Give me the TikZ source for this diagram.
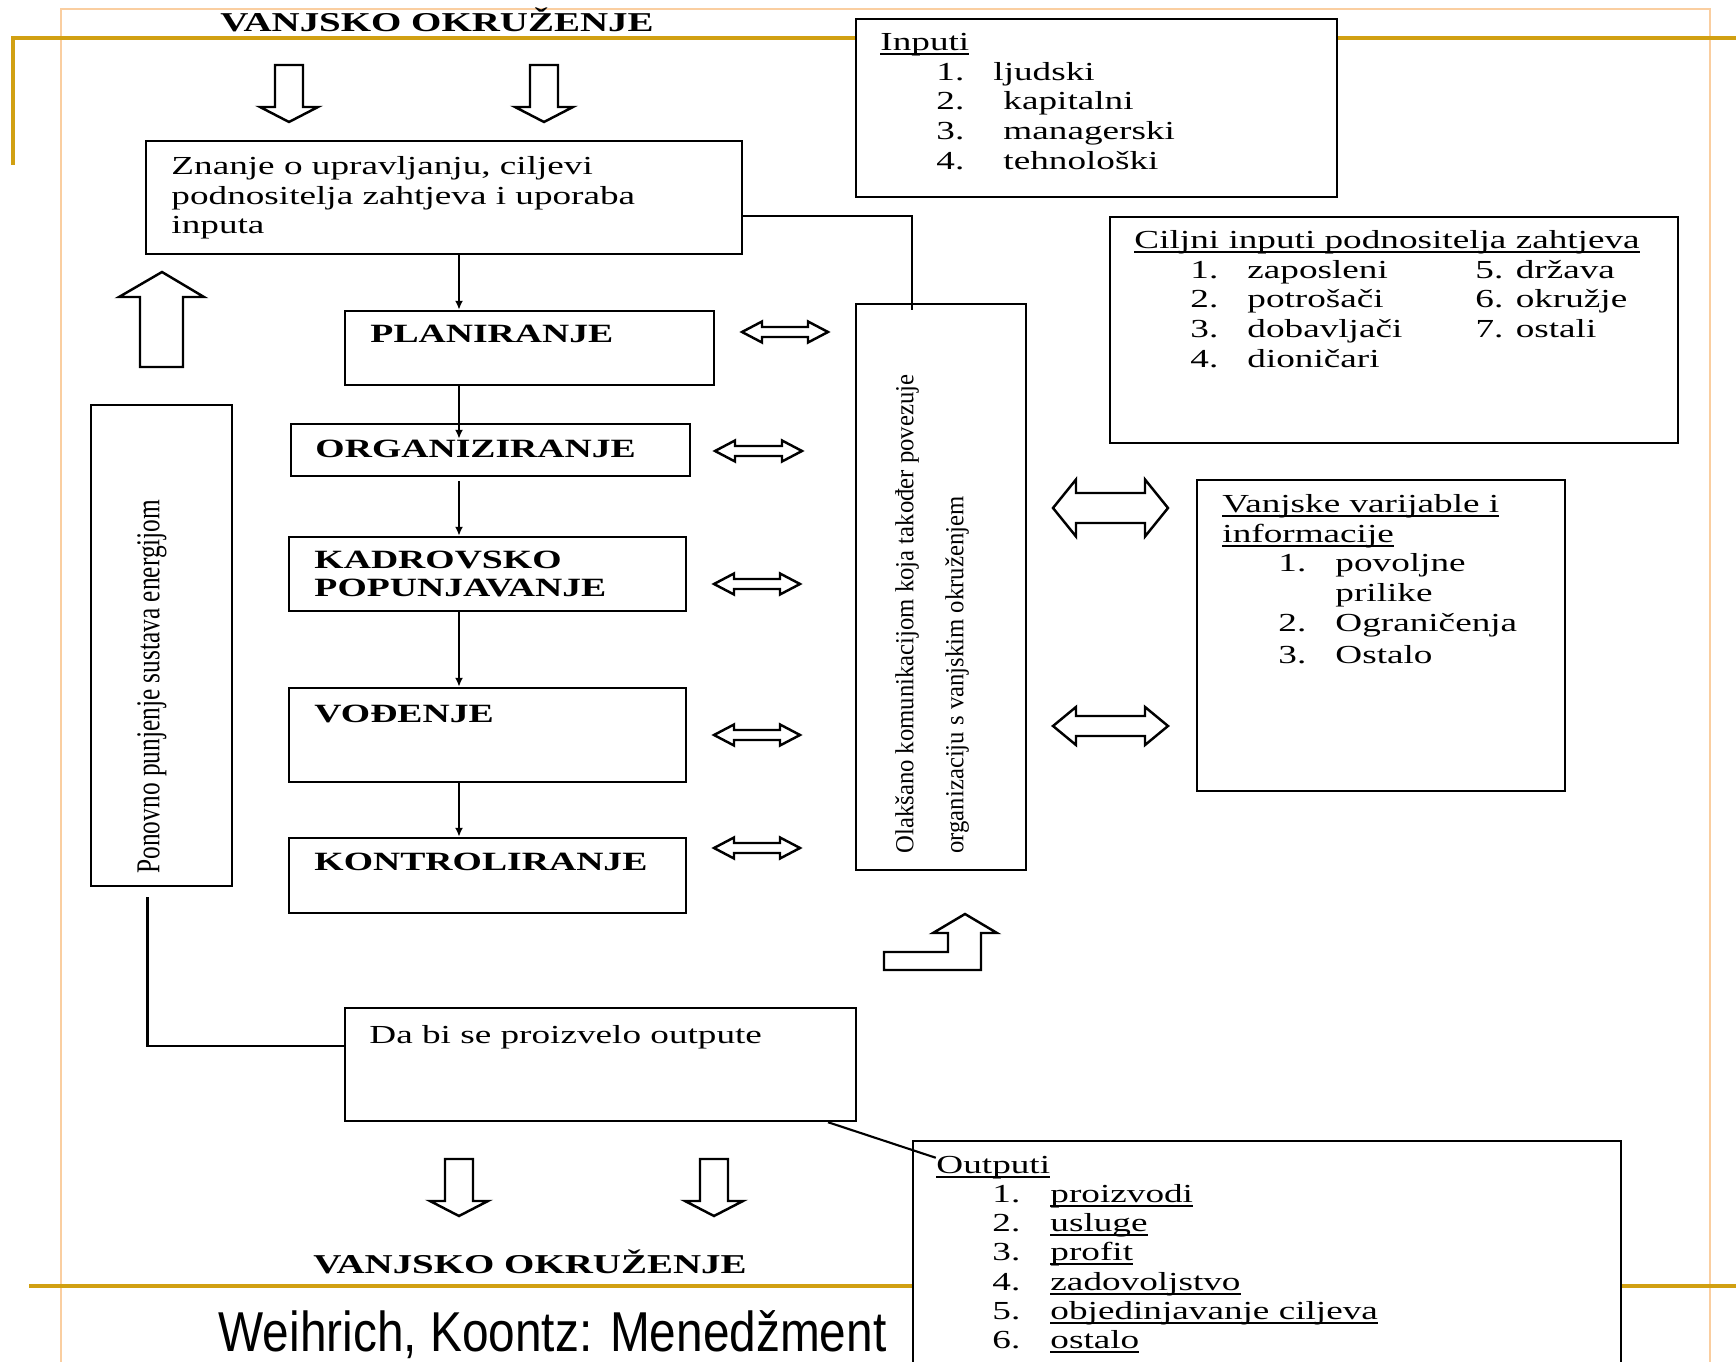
\documentclass[tikz,border=0pt]{standalone}
\usepackage{fontspec}
\setmainfont{Liberation Serif}
\newfontfamily\wideserif[FakeStretch=1.43]{Liberation Serif}
\newfontfamily\condserif[FakeStretch=0.95]{Liberation Serif}
\newfontfamily\tightserif[FakeStretch=0.76]{Liberation Serif}
\newfontfamily\narrowsans[FakeStretch=0.85]{Liberation Sans}
\usetikzlibrary{arrows.meta,positioning,calc}
\definecolor{slidegold}{RGB}{209,160,18}
\definecolor{slideorange}{RGB}{250,206,160}

\newcommand{\topstrut}{\rule{0pt}{2.4mm}}
\newcommand{\itm}[2][5.7mm]{\hspace*{5.6mm}\makebox[#1][l]{#2}}
% underline that keeps the line spacing
\newsavebox\ulbox
\newcommand{\ul}[1]{\sbox\ulbox{#1}\rlap{\rule[-0.45mm]{\wd\ulbox}{0.2mm}}\usebox\ulbox}
% hollow block arrows (coordinates in px)
\newcommand{\downblock}[2]{%
  \draw[blockarr] (#1-14,#2) -- (#1+14,#2) -- (#1+14,#2+42) -- (#1+29,#2+42)
    -- (#1,#2+57) -- (#1-29,#2+42) -- (#1-14,#2+42) -- cycle;}
\newcommand{\dblarrow}[6]{%
  \draw[blockarr] (#1,#3) -- (#1+#6,#3-#4) -- (#1+#6,#3-#5) -- (#2-#6,#3-#5)
    -- (#2-#6,#3-#4) -- (#2,#3) -- (#2-#6,#3+#4) -- (#2-#6,#3+#5)
    -- (#1+#6,#3+#5) -- (#1+#6,#3+#4) -- cycle;}

\begin{document}
\begin{tikzpicture}[x=0.1mm, y=-0.1mm,
    box/.style={draw, fill=white, line width=0.7pt, inner sep=0pt},
    txt/.style={font={\wideserif\fontsize{7.4}{8.45}\selectfont}, inner sep=0pt, align=left, anchor=north west},
    stagetxt/.style={font={\wideserif\bfseries\fontsize{7.5}{7.97}\selectfont}, inner sep=0pt, align=left},
    envtxt/.style={font={\wideserif\bfseries\fontsize{7.75}{9}\selectfont}, inner sep=0pt, anchor=base},
    vtxt/.style={inner sep=0pt, rotate=90, anchor=west},
    link/.style={line width=0.6pt},
    flow/.style={line width=0.6pt, -{Latex[length=0.9mm, width=0.8mm]}},
    blockarr/.style={draw, fill=white, line width=0.7pt, line join=miter}]
\useasboundingbox (0,0) rectangle (1736,1362);
\clip (0,0) rectangle (1736,1362);

% slide frame
\draw[slideorange, line width=0.6pt] (61,1362) -- (61,9) -- (1710,9) -- (1710,1362);
\draw[slidegold, line width=1pt] (13,165) -- (13,38) -- (1736,38);
\draw[slidegold, line width=1pt] (29,1286) -- (1736,1286);

% boxes
\node[box, minimum width=59.6mm, minimum height=11.3mm] (znanje) at (444,197.5) {};
\node[box, minimum width=48.1mm, minimum height=17.8mm] (inputi) at (1096.5,108) {};
\node[box, minimum width=56.8mm, minimum height=22.6mm] (ciljni) at (1394,330) {};
\node[box, minimum width=36.9mm, minimum height=7.4mm] (plan) at (529.5,348) {};
\node[box, minimum width=39.9mm, minimum height=5.2mm] (org) at (490.5,450) {};
\node[box, minimum width=39.7mm, minimum height=7.4mm] (kadr) at (487.5,574) {};
\node[box, minimum width=39.7mm, minimum height=9.4mm] (vod) at (487.5,735) {};
\node[box, minimum width=39.7mm, minimum height=7.5mm] (kontr) at (487.5,875.5) {};
\node[box, minimum width=17mm, minimum height=56.6mm] (comm) at (941,587) {};
\node[box, minimum width=36.8mm, minimum height=31.1mm] (vanjske) at (1381,635.5) {};
\node[box, minimum width=14.1mm, minimum height=48.1mm] (pono) at (161.5,645.5) {};
\node[box, minimum width=51.1mm, minimum height=11.3mm] (dabi) at (600.5,1064.5) {};
\node[box, minimum width=70.8mm, minimum height=31.8mm] (outputi) at (1267,1300) {};

% texts
\node[envtxt] (envtop) at (437,32) {VANJSKO OKRUŽENJE};
\node[envtxt] (envbot) at (530,1273) {VANJSKO OKRUŽENJE};
\node[txt] (znanjeT) at ([shift={(26,10)}]znanje.north west)
  {\topstrut Znanje o upravljanju, ciljevi\\podnositelja zahtjeva i uporaba\\inputa};
\node[txt] (inputiT) at ([shift={(25,8)}]inputi.north west)
  {\topstrut\ul{Inputi}\\
   \itm{1.}ljudski\\
   \itm[6.7mm]{2.}kapitalni\\
   \itm[6.7mm]{3.}managerski\\
   \itm[6.7mm]{4.}tehnološki};
\node[txt] (ciljniT) at ([shift={(25,8)}]ciljni.north west)
  {\topstrut\ul{Ciljni inputi podnositelja zahtjeva}\\
   \itm{1.}\makebox[22.8mm][l]{zaposleni}5. država\\
   \itm{2.}\makebox[22.8mm][l]{potrošači}6. okružje\\
   \itm{3.}\makebox[22.8mm][l]{dobavljači}7. ostali\\
   \itm{4.}dioničari};
\node[txt] (vanjskeT) at ([shift={(26,9)}]vanjske.north west)
  {\topstrut\ul{Vanjske varijable i}\\\ul{informacije}\\
   \itm{1.}povoljne\\
   \hspace*{11.3mm}prilike\\
   \itm{2.}Ograničenja\\[0.3mm]
   \itm{3.}Ostalo};
\node[txt, font={\wideserif\fontsize{7.4}{8.3}\selectfont}] (outputiT) at ([shift={(24,9)}]outputi.north west)
  {\topstrut\ul{Outputi}\\
   \itm[5.8mm]{1.}\ul{proizvodi}\\
   \itm[5.8mm]{2.}\ul{usluge}\\
   \itm[5.8mm]{3.}\ul{profit}\\
   \itm[5.8mm]{4.}\ul{zadovoljstvo}\\
   \itm[5.8mm]{5.}\ul{objedinjavanje ciljeva}\\
   \itm[5.8mm]{6.}\ul{ostalo}};
\node[txt] (dabiT) at ([shift={(25,12)}]dabi.north west) {\topstrut Da bi se proizvelo outpute};

\node[stagetxt, anchor=base west] (planT) at ([shift={(26,33)}]plan.north west) {PLANIRANJE};
\node[stagetxt, anchor=base west] (orgT) at ([shift={(25,35)}]org.north west) {ORGANIZIRANJE};
\node[stagetxt, anchor=north west] (kadrT) at ([shift={(26,8)}]kadr.north west) {\topstrut KADROVSKO\\POPUNJAVANJE};
\node[stagetxt, anchor=base west] (vodT) at ([shift={(26,36)}]vod.north west) {VOĐENJE};
\node[stagetxt, anchor=base west] (kontrT) at ([shift={(26,34)}]kontr.north west) {KONTROLIRANJE};

\node[vtxt, font={\tightserif\fontsize{9.5}{11}\selectfont}] (ponoT) at ([shift={(-9.5,-13)}]pono.south)
  {Ponovno punjenje sustava energijom};
\node[vtxt, font={\condserif\fontsize{7.4}{9}\selectfont}] (commA) at ([shift={(-34,-17)}]comm.south)
  {Olakšano komunikacijom koja također povezuje};
\node[vtxt, font={\condserif\fontsize{7.4}{9}\selectfont}] (commB) at ([shift={(16,-17)}]comm.south)
  {organizaciju s vanjskim okruženjem};

\node[inner sep=0pt, anchor=base west, font={\narrowsans\fontsize{16}{19}\selectfont}] (source) at (218,1351)
  {Weihrich, Koontz: Menedžment};

% connectors
\coordinate (spine) at (459,0);
\draw[flow] (znanje.south -| spine) -- (plan.north -| spine);
\draw[flow] (plan.south -| spine) -- ($(org.north -| spine)+(0,16)$);
\draw[flow] ($(org.south -| spine)+(0,4)$) -- (kadr.north -| spine);
\draw[flow] (kadr.south -| spine) -- (vod.north -| spine);
\draw[flow] (vod.south -| spine) -- (kontr.north -| spine);

\coordinate (linkrow) at (0,216);
\coordinate (linkcol) at (912,0);
\draw[link] (znanje.east |- linkrow) -| ($(comm.north -| linkcol)+(0,7)$);

\coordinate (feedcol) at (147.5,0);
\coordinate (feedrow) at (0,1046);
\draw[link] ($(pono.south -| feedcol)+(0,10)$) |- (dabi.west |- feedrow);

\coordinate (outcol) at (828,0);
\draw[link] (dabi.south -| outcol) -- ($(outputiT.north west)+(0,9)$);

% block arrows
\downblock{289}{65}
\downblock{544}{65}
\downblock{459}{1159}
\downblock{714}{1159}
\draw[blockarr] (140,367) -- (140,297) -- (119,297) -- (162,272) -- (204,297) -- (183,297) -- (183,367) -- cycle;
\draw[blockarr] (884,970) -- (884,952) -- (948,952) -- (948,933) -- (933,933) -- (965,914) -- (997,933) -- (981,933) -- (981,970) -- cycle;

\dblarrow{742}{828}{332}{10.5}{5}{20}
\dblarrow{715}{802}{451}{10.5}{5}{20}
\foreach \yy in {584,735,848} {\dblarrow{714}{800}{\yy}{10.5}{5}{20}}
\dblarrow{1053}{1168}{508}{28.5}{15}{23}
\dblarrow{1053}{1168}{726}{19}{10}{23}
\end{tikzpicture}
\end{document}
